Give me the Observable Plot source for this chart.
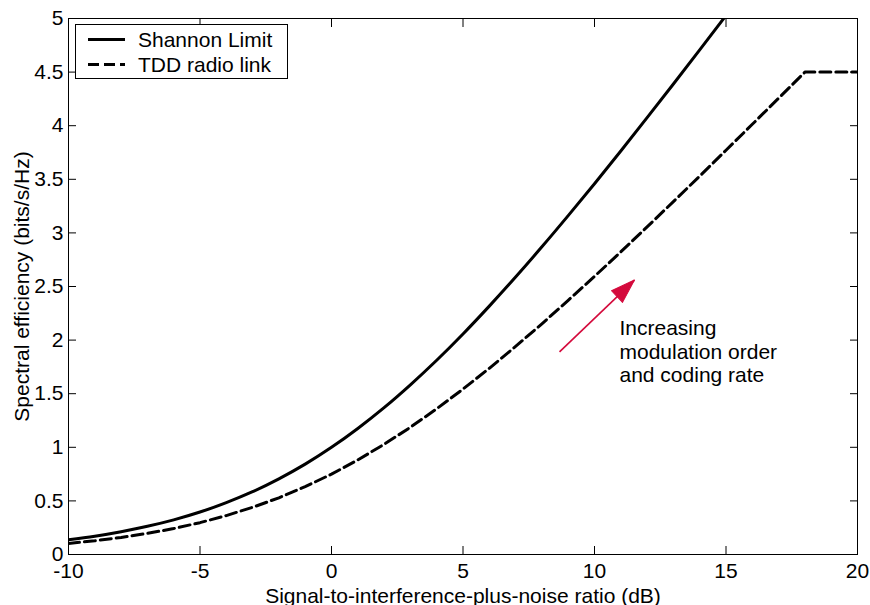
<!DOCTYPE html>
<html>
<head>
<meta charset="utf-8">
<script src="https://cdn.jsdelivr.net/npm/d3@7"></script>
<script src="https://cdn.jsdelivr.net/npm/@observablehq/plot@0.6"></script>
<style>
  html, body { margin: 0; padding: 0; background: #fff; overflow: hidden; }
  #wrap { position: relative; width: 870px; height: 605px; font-family: "Liberation Sans", Arial, sans-serif; }
  #legend { position: absolute; left: 0; top: 0; }
</style>
</head>
<body>
<div id="wrap"></div>
<script>
// ---- data ----
const shannonSnr = [-10, -9, -8, -7, -6, -5, -4, -3, -2, -1, 0, 1, 2, 3, 4, 5, 6, 7, 8, 9, 10, 11, 12, 13, 14, 15];
const shannonEff = [0.138, 0.171, 0.213, 0.263, 0.323, 0.396, 0.484, 0.586, 0.706, 0.843, 1.000, 1.176, 1.370, 1.583, 1.812, 2.057, 2.317, 2.588, 2.870, 3.161, 3.459, 3.764, 4.075, 4.389, 4.707, 5.028];
const tddSnr = [-10, -9, -8, -7, -6, -5, -4, -3, -2, -1, 0, 1, 2, 3, 4, 5, 6, 7, 8, 9, 10, 11, 12, 13, 14, 15, 16, 17, 18, 19, 20];
const tddEff = [0.103, 0.128, 0.159, 0.197, 0.242, 0.297, 0.363, 0.440, 0.529, 0.633, 0.750, 0.882, 1.028, 1.187, 1.359, 1.543, 1.737, 1.941, 2.152, 2.371, 2.594, 2.823, 3.056, 3.292, 3.530, 3.771, 4.013, 4.256, 4.500, 4.500, 4.500];
const seriesNames = ["Shannon Limit", "TDD radio link"];
const xTicks = [-10, -5, 0, 5, 10, 15, 20];
const yTicks = [0, 0.5, 1, 1.5, 2, 2.5, 3, 3.5, 4, 4.5, 5];
const xTickLabels = ["-10", "-5", "0", "5", "10", "15", "20"];
const yTickLabels = ["0", "0.5", "1", "1.5", "2", "2.5", "3", "3.5", "4", "4.5", "5"];
const xTitle = "Signal-to-interference-plus-noise ratio (dB)";
const yTitle = "Spectral efficiency (bits/s/Hz)";
const arrowStart = [8.67, 1.89];
const arrowEnd = [11.52, 2.56];
const noteText = ["Increasing", "modulation order", "and coding rate"];
const notePos = [10.95, 2.20];

// ---- tables ----
const shannon = shannonSnr.map((x, i) => ({x, y: shannonEff[i]}));
const tdd = tddSnr.map((x, i) => ({x, y: tddEff[i]}));
const arrowData = [{x1: arrowStart[0], y1: arrowStart[1], x2: arrowEnd[0], y2: arrowEnd[1]}];
const xLab = d => xTickLabels[xTicks.indexOf(d)];
const yLab = d => yTickLabels[yTicks.indexOf(d)];

const RED = "#d40a3c";
const FONT = 21;

const headShape = {
  draw(context, l, r) {
    context.moveTo(0, -l);
    context.lineTo(-r, 0);
    context.lineTo(r, 0);
    context.closePath();
  }
};

const chart = Plot.plot({
  width: 870,
  height: 605,
  marginLeft: 68,
  marginRight: 13,
  marginTop: 18,
  marginBottom: 51,
  x: {domain: [-10, 20]},
  y: {domain: [0, 5]},
  style: {fontFamily: "'Liberation Sans', Arial, sans-serif", fontSize: FONT + "px", color: "#000", background: "#fff"},
  marks: [
    Plot.line(shannon, {x: "x", y: "y", stroke: "#000", strokeWidth: 3, curve: "monotone-x", clip: true}),
    Plot.line(tdd, {x: "x", y: "y", stroke: "#000", strokeWidth: 3, strokeDasharray: "11,5", curve: "linear", clip: true}),
    Plot.link(arrowData, {x1: "x1", y1: "y1", x2: "x2", y2: "y2", stroke: RED, strokeWidth: 1.6}),
    Plot.vector(arrowData, {x: "x2", y: "y2", anchor: "end", length: 24, r: 8, rotate: 46.6, shape: headShape, fill: RED, stroke: RED, strokeWidth: 1}),
    Plot.text([noteText.join("\n")], {x: () => notePos[0], y: () => notePos[1], text: d => d, textAnchor: "start", lineAnchor: "top", lineHeight: 1.12, fontSize: FONT, fill: "#000"}),
    Plot.frame({stroke: "#000", strokeWidth: 1}),
    // labels
    Plot.axisX(xTicks, {anchor: "bottom", tickSize: 0, tickPadding: 9, tickFormat: xLab, fontSize: FONT, label: xTitle, labelAnchor: "center", labelArrow: "none", labelOffset: 48}),
    Plot.axisY(yTicks, {anchor: "left", tickSize: 0, tickPadding: 5, tickFormat: yLab, fontSize: FONT, label: yTitle, labelAnchor: "center", labelArrow: "none", labelOffset: 54}),
    // inward ticks on all four sides
    Plot.axisX(xTicks, {anchor: "bottom", tickSize: 8, dy: -8, tickFormat: () => "", label: null, strokeWidth: 1}),
    Plot.axisX(xTicks, {anchor: "top", tickSize: 8, dy: 8, tickFormat: () => "", label: null, strokeWidth: 1}),
    Plot.axisY(yTicks, {anchor: "left", tickSize: 8, dx: 8, tickFormat: () => "", label: null, strokeWidth: 1}),
    Plot.axisY(yTicks, {anchor: "right", tickSize: 8, dx: -8, tickFormat: () => "", label: null, strokeWidth: 1})
  ]
});

const wrap = document.getElementById("wrap");
wrap.appendChild(chart);

// ---- legend overlay (inside the axes, top-left) ----
const leg = d3.select(wrap).append("svg")
  .attr("id", "legend")
  .attr("width", 870).attr("height", 100)
  .style("font-family", "'Liberation Sans', Arial, sans-serif");
leg.append("rect").attr("x", 75.5).attr("y", 24.5).attr("width", 212).attr("height", 54)
  .attr("fill", "#fff").attr("stroke", "#000").attr("stroke-width", 1);
const rows = leg.selectAll("g.row").data(seriesNames).join("g").attr("class", "row")
  .attr("transform", (d, i) => `translate(0, ${39.5 + i * 25})`);
rows.append("line").attr("x1", 88).attr("x2", 125).attr("y1", 0).attr("y2", 0)
  .attr("stroke", "#000").attr("stroke-width", 3)
  .attr("stroke-dasharray", (d, i) => i === 0 ? null : "11,5");
rows.append("text").attr("x", 138).attr("y", 7.4).attr("font-size", FONT + "px").attr("fill", "#000").text(d => d);
</script>
</body>
</html>
